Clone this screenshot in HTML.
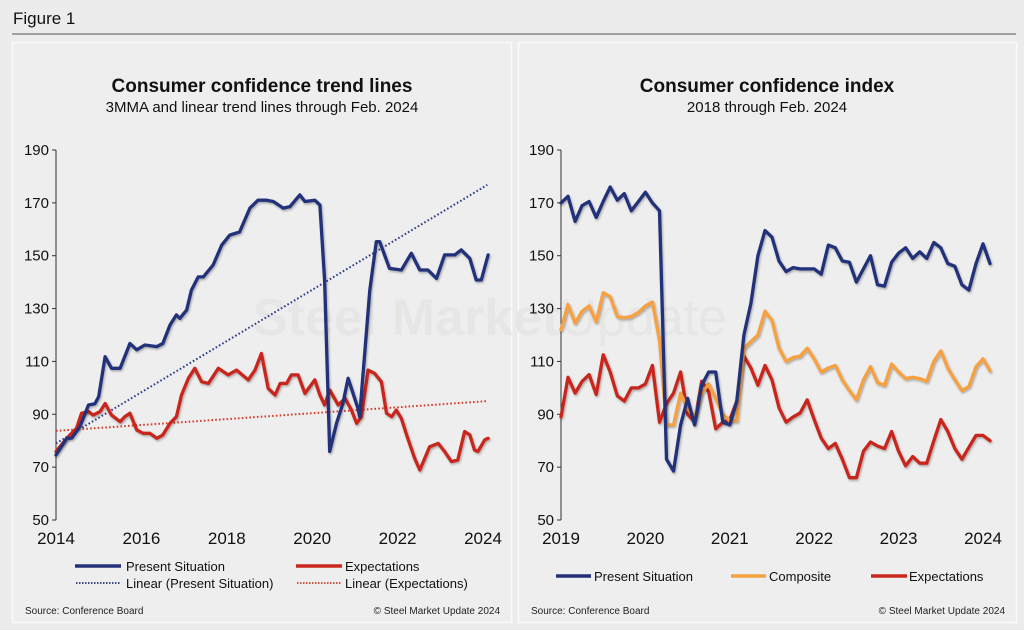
<!DOCTYPE html>
<html><head><meta charset="utf-8"><style>
body{margin:0;background:#ececec;font-family:"Liberation Sans",sans-serif;}
#wrap{position:relative;width:1024px;height:630px;background:#ececec;overflow:hidden}
</style></head><body>
<div id="wrap">
<svg id="svg" width="1024" height="630" xmlns="http://www.w3.org/2000/svg">
<defs><filter id="sh" x="-5%" y="-5%" width="110%" height="110%"><feDropShadow dx="1" dy="1.5" stdDeviation="1" flood-color="#000" flood-opacity="0.3"/></filter></defs>
<text x="13" y="24" font-size="17" fill="#111">Figure 1</text>
<line x1="12" y1="34" x2="1016" y2="34" stroke="#555" stroke-width="1"/>
<rect x="12.5" y="42.5" width="499" height="580" fill="#eeeeee" stroke="#fafafa" stroke-width="1.5"/>
<rect x="518.5" y="42.5" width="498" height="580" fill="#eeeeee" stroke="#fafafa" stroke-width="1.5"/>
<text x="262" y="92" font-size="19" font-weight="bold" text-anchor="middle" fill="#111">Consumer confidence trend lines</text>
<text x="262" y="112" font-size="15" text-anchor="middle" fill="#111">3MMA and linear trend lines through Feb. 2024</text>
<text x="767" y="92" font-size="19" font-weight="bold" text-anchor="middle" fill="#111">Consumer confidence index</text>
<text x="767" y="112" font-size="15" text-anchor="middle" fill="#111">2018 through Feb. 2024</text>
<text x="490" y="335" font-size="52" font-weight="bold" text-anchor="middle" fill="#e6e6e6">Steel Market<tspan font-weight="normal">Update</tspan></text>
<g id="left"></g>
<g id="right"></g>
<g font-size="13" fill="#111">
<line x1="75" y1="566" x2="121" y2="566" stroke="#23307a" stroke-width="3.5"/>
<text x="126" y="571">Present Situation</text>
<line x1="296" y1="566" x2="342" y2="566" stroke="#c8281e" stroke-width="3.5"/>
<text x="345" y="571">Expectations</text>
<line x1="76" y1="583" x2="121" y2="583" stroke="#23307a" stroke-width="1.8" stroke-dasharray="1.5 1.5"/>
<text x="126" y="588">Linear (Present Situation)</text>
<line x1="297" y1="583" x2="342" y2="583" stroke="#d33a2a" stroke-width="1.8" stroke-dasharray="1.5 1.5"/>
<text x="345" y="588">Linear (Expectations)</text>
</g>
<g font-size="13" fill="#111">
<line x1="556" y1="576" x2="591" y2="576" stroke="#23307a" stroke-width="3.5"/>
<text x="594" y="581">Present Situation</text>
<line x1="731" y1="576" x2="766" y2="576" stroke="#f7a040" stroke-width="3.5"/>
<text x="769" y="581">Composite</text>
<line x1="871" y1="576" x2="907" y2="576" stroke="#c8281e" stroke-width="3.5"/>
<text x="909" y="581">Expectations</text>
</g>
<g font-size="10" fill="#222">
<text x="25" y="614">Source: Conference Board</text>
<text x="500" y="614" text-anchor="end">© Steel Market Update 2024</text>
<text x="531" y="614">Source: Conference Board</text>
<text x="1005" y="614" text-anchor="end">© Steel Market Update 2024</text>
</g>
</svg>
</div>
<script>
// ---- Left chart data (3MMA) ----
const leftPresentDates=[2014.0,2014.25,2014.37,2014.56,2014.76,2014.91,2015.0,2015.15,2015.3,2015.5,2015.73,2015.89,2016.08,2016.36,2016.5,2016.67,2016.82,2016.9,2017.06,2017.17,2017.33,2017.45,2017.68,2017.88,2018.07,2018.3,2018.54,2018.73,2018.93,2019.09,2019.32,2019.48,2019.71,2019.83,2020.06,2020.18,2020.29,2020.41,2020.57,2020.72,2020.84,2021.07,2021.11,2021.35,2021.5,2021.58,2021.81,2022.09,2022.32,2022.52,2022.71,2022.91,2023.1,2023.34,2023.49,2023.69,2023.84,2023.96,2024.12];
const leftPresentValues=[74.6,80.9,81,85.3,93.5,94,96.7,111.8,107.4,107.4,116.8,114.4,116.2,115.6,116.8,123.8,127.6,126.3,129.5,137,142,142,146.5,154,157.8,159,168,171,171,170.5,168,168.6,173,170.5,171,169.2,140.8,75.9,86.6,94.1,103.6,92.3,89.1,137,155.3,155.3,145.2,144.6,150.9,144.6,144.6,141.4,150.3,150.3,152.2,149,140.8,140.8,150.3];
const leftExpDates=[2014.0,2014.25,2014.48,2014.6,2014.76,2014.87,2015.03,2015.15,2015.3,2015.5,2015.61,2015.73,2015.89,2016.04,2016.2,2016.36,2016.5,2016.67,2016.82,2016.94,2017.1,2017.25,2017.41,2017.57,2017.8,2018.03,2018.23,2018.5,2018.66,2018.81,2018.97,2019.13,2019.25,2019.4,2019.51,2019.67,2019.83,2020.06,2020.18,2020.29,2020.41,2020.61,2020.77,2020.92,2021.04,2021.15,2021.31,2021.46,2021.62,2021.74,2021.86,2021.97,2022.09,2022.21,2022.4,2022.52,2022.75,2022.95,2023.1,2023.26,2023.41,2023.57,2023.69,2023.8,2023.88,2024.04,2024.12];
const leftExpValues=[75.9,80.9,84.7,90.4,91,89.7,91,94.1,89.7,87.2,89.1,90.4,84.1,82.8,82.8,80.9,82.2,86.6,89.1,97.3,103.6,107.4,102.3,101.7,107.4,104.9,106.7,103,106.7,113,99.8,97.3,101.7,101.7,104.9,104.9,97.9,103,97.3,93.5,99.2,93.5,96,91.6,86.6,89.1,106.7,105.5,102.3,90.4,89.1,91.6,88.4,82.2,73.3,68.9,77.7,79,75.9,72.1,72.7,83.5,82.2,76.5,75.9,80.3,80.9];
const trendDates=[2014.0,2024.1];
const trendPresent=[79,176.8];
const trendExp=[83.7,95.0];
const leftXTicks=[2014,2016,2018,2020,2022,2024];
const yTicks=[50,70,90,110,130,150,170,190];
// ---- Right chart data (monthly, Jan 2019 - Feb 2024) ----
const rightStart=2019;
const rightPresent=[170,172.5,163,169,170.5,164.5,170.5,176,171,173.5,167,170.5,174,170,167,73,68.5,86,96,86,101,106,106,87,86,95,120,132,150,159.5,157,148,144,145.5,145,145,145,143,154,153,148,147.5,140,145,150,139,138.5,147.5,151,153,149,151.5,149,155,153,147,146,139,137,147,154.5,147];
const rightComposite=[122,131.5,124.5,129,131,125,136,134.5,127,126.5,127,128.5,131,132.5,118,86,86,98,92,89,98,101.5,96,90,87.5,87.5,115,117.5,120,129,125.5,115,110,111.5,112,115,111,106,107.5,108.5,103,99,95.5,103,108,102,101,109,106,103.5,104,103.5,102.5,110,114,107.5,103,99,100.5,108,111,106.5];
const rightExp=[89,104,98,102.5,105,97.5,112.5,106,97,95,100,100,101.5,108.5,87,94,98,106,90,87,102.5,98.5,84.5,87,88,95,112,107.5,101,108.5,103,92.5,87,89,90.5,95.5,88,81,77,79,73,66,66,76,79.5,78,77,83.5,76,70.5,74,71.5,71.5,80,88,83.5,77,73,77.5,82,82,80];
const rightXTicks=[2019,2020,2021,2022,2023,2024];

const NS="http://www.w3.org/2000/svg";
function mk(tag,attrs,parent){const e=document.createElementNS(NS,tag);for(const k in attrs)e.setAttribute(k,attrs[k]);parent.appendChild(e);return e;}
const yScale=v=>150+(190-v)*(370/140);
const lx=d=>56+(d-2014)*42.7;
const rx=d=>561+(d-2019)*84.4;
function axes(g,xs,ticks,x0,prefix){
  const ax=mk('line',{x1:x0,y1:150,x2:x0,y2:520,stroke:'#333','stroke-width':1},g);
  
  
  yTicks.forEach(t=>{
    const l=mk('line',{x1:x0-4,y1:yScale(t),x2:x0,y2:yScale(t),stroke:'#333'},g);
    
    
    const tx=mk('text',{x:x0-7,y:yScale(t)+5,'font-size':15,'text-anchor':'end',fill:'#111'},g);
    tx.textContent=t;
    
    
  });
  ticks.forEach(t=>{
    const tx=mk('text',{x:xs(t),y:544,'font-size':17,'text-anchor':'middle',fill:'#111'},g);
    tx.textContent=t;
    
    
  });
}
function line(g,xsArr,ys,xs,color,w,name,dash){
  const d=ys.map((v,i)=>(i?'L':'M')+xs(xsArr[i]).toFixed(1)+','+yScale(v).toFixed(1)).join('');
  const a={d:d,fill:'none',stroke:color,'stroke-width':w,'stroke-linejoin':'round','stroke-linecap':'round'};
  if(dash){a['stroke-dasharray']=dash;a['stroke-linecap']='butt';}else a.filter='url(#sh)';
  const p=mk('path',a,g);
  
  
}
const L=document.getElementById('left'),R=document.getElementById('right');
axes(L,lx,leftXTicks,56,'left');
line(L,trendDates,trendPresent,lx,'#2c3a8a',2,'linear-present-trend','1.6 2.2');
line(L,trendDates,trendExp,lx,'#d83a2a',2,'linear-expectations-trend','1.6 2.2');
line(L,leftExpDates,leftExpValues,lx,'#c8281e',3.3,'left-expectations-line');
line(L,leftPresentDates,leftPresentValues,lx,'#23307a',3.3,'left-present-line');
axes(R,rx,rightXTicks,561,'right');
const months=rightPresent.map((_,i)=>rightStart+i/12);
line(R,months,rightExp,rx,'#c8281e',3.3,'right-expectations-line');
line(R,months,rightComposite,rx,'#f7a040',3.3,'right-composite-line');
line(R,months,rightPresent,rx,'#23307a',3.3,'right-present-line');
</script>
</body></html>
